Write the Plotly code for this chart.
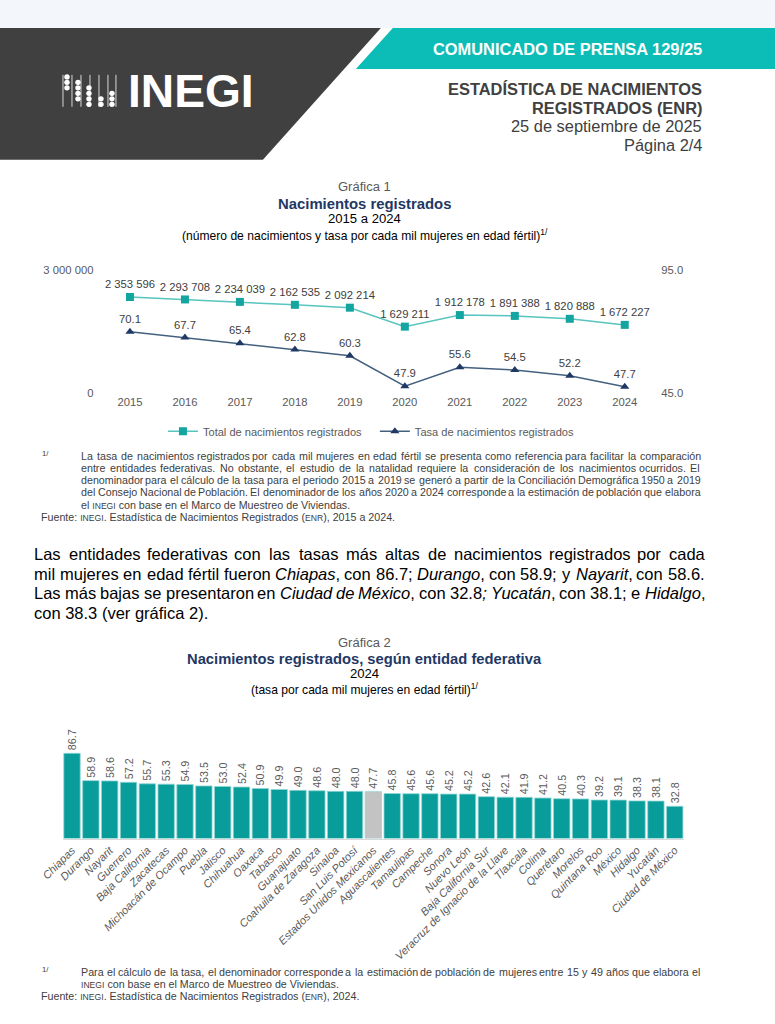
import re
import plotly.graph_objects as go

W, H = 775, 1024
# The screenshot places the page slightly inset/scaled; positions below are given in
# target-picture pixels and mapped back to figure pixels.
OX, SX = 22.0, 0.972
OY, SY = 4.0, 0.99
def fx(p): return (p - OX) / SX
def fy(p): return (p - OY) / SY
def X(p): return fx(p) / W
def Y(p): return 1 - fy(p) / H
def F(s): return s / 0.975

# ---------------- data ----------------
years = [2015, 2016, 2017, 2018, 2019, 2020, 2021, 2022, 2023, 2024]
total_births = [2353596, 2293708, 2234039, 2162535, 2092214, 1629211, 1912178, 1891388, 1820888, 1672227]
birth_rate = [70.1, 67.7, 65.4, 62.8, 60.3, 47.9, 55.6, 54.5, 52.2, 47.7]

states = ["Chiapas", "Durango", "Nayarit", "Guerrero", "Baja California", "Zacatecas",
          "Michoacán de Ocampo", "Puebla", "Jalisco", "Chihuahua", "Oaxaca", "Tabasco",
          "Guanajuato", "Coahuila de Zaragoza", "Sinaloa", "San Luis Potosí",
          "Estados Unidos Mexicanos", "Aguascalientes", "Tamaulipas", "Campeche", "Sonora",
          "Nuevo León", "Baja California Sur", "Veracruz de Ignacio de la Llave", "Tlaxcala",
          "Colima", "Querétaro", "Morelos", "Quintana Roo", "México", "Hidalgo", "Yucatán",
          "Ciudad de México"]
state_rates = [86.7, 58.9, 58.6, 57.2, 55.7, 55.3, 54.9, 53.5, 53.0, 52.4, 50.9, 49.9,
               49.0, 48.6, 48.0, 48.0, 47.7, 45.8, 45.6, 45.6, 45.2, 45.2, 42.6, 42.1,
               41.9, 41.2, 40.5, 40.3, 39.2, 39.1, 38.3, 38.1, 32.8]
national_label = "Estados Unidos Mexicanos"

FONT = "Liberation Sans, Arial, sans-serif"
TEAL = "#0bbdb6"
DARK = "#404040"
NAVY = "#1f3864"
GRAY = "#595959"
TC = 365  # centre of chart titles

fig = go.Figure()

# ---------------- chart 1 ----------------
fig.add_trace(go.Scatter(
    x=years, y=total_births, mode="lines+markers+text",
    name="Total de nacimientos registrados",
    line=dict(color="#58c4bf", width=1.5),
    marker=dict(symbol="square", size=8, color="#15a5a0"),
    texttemplate="%{y:,}", textposition="top center",
    textfont=dict(size=F(11), color=DARK, family=FONT),
    xaxis="x", yaxis="y", legend="legend", cliponaxis=False))

fig.add_trace(go.Scatter(
    x=years, y=birth_rate, mode="lines+markers+text",
    name="Tasa de nacimientos registrados",
    line=dict(color="#44607f", width=1.5),
    marker=dict(symbol="triangle-up", size=8, color=NAVY),
    texttemplate="%{y:.1f}", textposition="top center",
    textfont=dict(size=F(11), color=DARK, family=FONT),
    xaxis="x", yaxis="y2", legend="legend2", cliponaxis=False))

# ---------------- chart 2 ----------------
bar_colors = ["#c3c3c3" if s == national_label else "#089c9a" for s in states]
fig.add_trace(go.Bar(
    x=states, y=state_rates, marker=dict(color=bar_colors, line=dict(color="#8fd6d4", width=0.8)),
    texttemplate="%{y:.1f}", textposition="outside", textangle=-90,
    textfont=dict(size=F(10.5), color=GRAY, family=FONT), constraintext="none",
    cliponaxis=False, showlegend=False, xaxis="x2", yaxis="y3", width=0.87))

# ---------------- shapes (page decoration) ----------------
shapes = []
def poly(pts, color):
    d = "M " + " L ".join(f"{X(a):.5f},{Y(b):.5f}" for a, b in pts) + " Z"
    return dict(type="path", path=d, xref="paper", yref="paper", fillcolor=color,
                line=dict(width=0), layer="below")

shapes.append(poly([(-40, -20), (820, -20), (820, 26), (-40, 26)], "#f3f6fa"))
shapes.append(poly([(-40, 26), (381, 26), (263, 158), (-40, 158)], DARK))
shapes.append(poly([(393, 26), (820, 26), (820, 67), (356, 67)], TEAL))

for lx in [63, 72, 81, 90, 99, 108, 116]:
    shapes.append(dict(type="line", xref="paper", yref="paper", x0=X(lx), x1=X(lx),
                       y0=Y(105), y1=Y(73), line=dict(color="white", width=0.8)))
dot_cols = {67: [75, 80.5, 86], 78: [80.5, 86, 91.5, 97], 89: [86, 91.5, 97, 102.5],
            101: [97, 102.5], 112: [91.5, 97, 102.5]}
for cx, rows in dot_cols.items():
    for cy in rows:
        shapes.append(dict(type="circle", xref="paper", yref="paper",
                           x0=X(cx - 2.7), x1=X(cx + 2.7), y0=Y(cy + 2.7), y1=Y(cy - 2.7),
                           fillcolor="white", line=dict(width=0)))

# ---------------- text helpers ----------------
AW = {' ': 278, '!': 278, '(': 333, ')': 333, ',': 278, '-': 333, '.': 278, '/': 278,
      ':': 278, ';': 278,
      'A': 667, 'B': 667, 'C': 722, 'D': 722, 'E': 667, 'F': 611, 'G': 778, 'H': 722,
      'I': 278, 'J': 500, 'K': 667, 'L': 556, 'M': 833, 'N': 722, 'O': 778, 'P': 667,
      'Q': 778, 'R': 722, 'S': 667, 'T': 611, 'U': 722, 'V': 667, 'W': 944, 'X': 667,
      'Y': 667, 'Z': 611,
      'a': 556, 'b': 556, 'c': 500, 'd': 556, 'e': 556, 'f': 278, 'g': 556, 'h': 556,
      'i': 222, 'j': 222, 'k': 500, 'l': 222, 'm': 833, 'n': 556, 'o': 556, 'p': 556,
      'q': 556, 'r': 333, 's': 500, 't': 278, 'u': 556, 'v': 500, 'w': 722, 'x': 500,
      'y': 500, 'z': 500, 'á': 556, 'é': 556, 'í': 278, 'ó': 556, 'ú': 556, 'ñ': 556}

SC_RATIO = 0.8   # small caps size ratio

def word_em(w):
    w = w.replace("<i>", "").replace("</i>", "")
    total = 0.0
    for part in re.split(r"(\{[^}]*\})", w):
        if part.startswith("{"):
            total += SC_RATIO * sum(AW.get(c, 556) for c in part[1:-1]) / 1000
        else:
            total += sum(AW.get(c, 556) for c in part) / 1000
    return total

def to_html(s, size):
    return re.sub(r"\{([^}]*)\}", lambda m: "<span style='font-size:%.1fpx'>%s</span>" % (size * SC_RATIO, m.group(1)), s)

ann = []
def txt(x, y, s, size, color="#000000", anchor="left", raw_x=False):
    ann.append(dict(x=(x / W if raw_x else X(x)), y=Y(y), xref="paper", yref="paper", text=s,
                    showarrow=False, xanchor=anchor, yanchor="middle", align=anchor, borderpad=0,
                    font=dict(size=size, color=color, family=FONT)))

def justify(line, x0, x1, y, size, color):
    f0, f1 = fx(x0), fx(x1)
    words = line.split(" ")
    widths = [word_em(w) * size for w in words]
    gap = (f1 - f0 - sum(widths)) / (len(words) - 1)
    xx = f0
    for w, wd in zip(words, widths):
        txt(xx, y, to_html(w, size), size, color, raw_x=True)
        xx += wd + gap

def fit_size(lines, x0, x1, cap):
    m = max(word_em(l) for l in lines)
    return min(cap, 0.985 * (fx(x1) - fx(x0)) / m)

# ---------------- header ----------------
txt(127, 89, "<b>INEGI</b>", F(45), "white", "left")
txt(703, 47, "<b>COMUNICADO DE PRENSA 129/25</b>", F(16), "white", "right")
txt(703, 87, "<b>ESTADÍSTICA DE NACIMIENTOS</b>", F(16), DARK, "right")
txt(703, 106, "<b>REGISTRADOS (ENR)</b>", F(16), DARK, "right")
txt(703, 124, "25 de septiembre de 2025", F(16), DARK, "right")
txt(703, 143, "Página 2/4", F(16), DARK, "right")

# ---------------- chart 1 titles ----------------
txt(TC, 185, "Gráfica 1", F(12.7), GRAY, "center")
txt(TC, 202, "<b>Nacimientos registrados</b>", F(14.5), NAVY, "center")
txt(TC, 217, "2015 a 2024", F(12.8), "#000000", "center")
txt(TC, 233, "(número de nacimientos y tasa por cada mil mujeres en edad fértil)<sup>1/</sup>", F(11.8), "#000000", "center")

# ---------------- footnote chart 1 ----------------
foot1_just = [
    "La tasa de nacimientos registrados por cada mil mujeres en edad fértil se presenta como referencia para facilitar la comparación",
    "entre entidades federativas. No obstante, el estudio de la natalidad requiere la consideración de los nacimientos ocurridos. El",
    "denominador para el cálculo de la tasa para el periodo 2015 a 2019 se generó a partir de la Conciliación Demográfica 1950 a 2019",
    "del Consejo Nacional de Población. El denominador de los años 2020 a 2024 corresponde a la estimación de población que elabora",
]
foot1_last = "el {INEGI} con base en el Marco de Muestreo de Viviendas."
source1 = "Fuente: {INEGI}. Estadística de Nacimientos Registrados ({ENR}), 2015 a 2024."
fs = fit_size(foot1_just, 80, 699, F(11))
txt(41, 452, "1/", F(7.5), DARK)
for i, line in enumerate(foot1_just):
    justify(line, 80, 699, 455 + i * 12.1, fs, DARK)
txt(80, 455 + 4 * 12.1, to_html(foot1_last, fs), fs, DARK)
txt(40, 516, to_html(source1, fs), fs, DARK)

# ---------------- body paragraph ----------------
body_just = [
    "Las entidades federativas con las tasas más altas de nacimientos registrados por cada",
    "mil mujeres en edad fértil fueron <i>Chiapas</i>, con 86.7; <i>Durango</i>, con 58.9; y <i>Nayarit</i>, con 58.6.",
    "Las más bajas se presentaron en <i>Ciudad</i> <i>de</i> <i>México</i>, con 32.8<i>;</i> <i>Yucatán</i>, con 38.1; e <i>Hidalgo</i>,",
]
body_last = "con 38.3 (ver gráfica 2)."
bs = fit_size(body_just, 33, 703, F(17))
for i, line in enumerate(body_just):
    justify(line, 33, 703, 553 + i * 19.7, bs, "#000000")
txt(33, 553 + 3 * 19.7, body_last, bs, "#000000")

# ---------------- chart 2 titles ----------------
txt(TC, 642, "Gráfica 2", F(12.7), GRAY, "center")
txt(TC, 658, "<b>Nacimientos registrados, según entidad federativa</b>", F(14.4), NAVY, "center")
txt(TC, 673, "2024", F(12.8), "#000000", "center")
txt(TC, 688, "(tasa por cada mil mujeres en edad fértil)<sup>1/</sup>", F(11.8), "#000000", "center")

# ---------------- footnote chart 2 ----------------
foot2_just = ["Para el cálculo de la tasa, el denominador corresponde a la estimación de población de mujeres entre 15 y 49 años que elabora el"]
foot2_last = "{INEGI} con base en el Marco de Muestreo de Viviendas."
source2 = "Fuente: {INEGI}. Estadística de Nacimientos Registrados ({ENR}), 2024."
txt(41, 969, "1/", F(7.5), DARK)
justify(foot2_just[0], 80, 699, 972, fs, DARK)
txt(80, 984, to_html(foot2_last, fs), fs, DARK)
txt(40, 996, to_html(source2, fs), fs, DARK)

# ---------------- layout ----------------
fig.update_layout(
    width=W, height=H, margin=dict(l=0, r=0, t=0, b=0),
    paper_bgcolor="white", plot_bgcolor="rgba(0,0,0,0)",
    separators=". ", font=dict(family=FONT, color=GRAY),
    shapes=shapes, annotations=ann,
    xaxis=dict(domain=[X(102.5), X(652.5)], range=[2014.5, 2024.5], tickvals=years,
               showgrid=False, zeroline=False, showline=False, ticks="",
               tickfont=dict(size=F(11), color=GRAY, family=FONT), anchor="y"),
    yaxis=dict(domain=[Y(392), Y(269)], range=[0, 3000000], tickvals=[0, 3000000],
               tickformat=",", showgrid=True, gridcolor="#d9d9d9", gridwidth=1,
               zeroline=False, showline=False, ticks="", ticklabelstandoff=8,
               tickfont=dict(size=F(11), color=GRAY, family=FONT), anchor="x"),
    yaxis2=dict(overlaying="y", side="right", range=[45, 95], tickvals=[45, 95],
                tickformat=".1f", showgrid=False, zeroline=False, showline=False, ticks="",
                ticklabelstandoff=8, tickfont=dict(size=F(11), color=GRAY, family=FONT), anchor="x"),
    xaxis2=dict(domain=[X(62.6), X(684.4)], type="category", anchor="y3",
                tickvals=states, ticktext=["<i>%s</i>" % s for s in states],
                tickangle=-45, showgrid=False, zeroline=False, showline=True,
                linecolor="#d9d9d9", linewidth=1, ticks="",
                tickfont=dict(size=F(10.8), color=GRAY, family=FONT)),
    yaxis3=dict(domain=[Y(838), Y(739.5)], range=[0, 100], visible=False, anchor="x2"),
    legend=dict(orientation="h", x=X(163), y=Y(430), xanchor="left", yanchor="middle",
                bgcolor="rgba(0,0,0,0)", font=dict(size=F(10.8), color=GRAY, family=FONT)),
    legend2=dict(orientation="h", x=X(375), y=Y(430), xanchor="left", yanchor="middle",
                 bgcolor="rgba(0,0,0,0)", font=dict(size=F(10.8), color=GRAY, family=FONT)),
)

fig.write_html("out.html", config={"displayModeBar": False},
               post_script="document.body.style.margin='0px';document.body.style.overflow='hidden';")
